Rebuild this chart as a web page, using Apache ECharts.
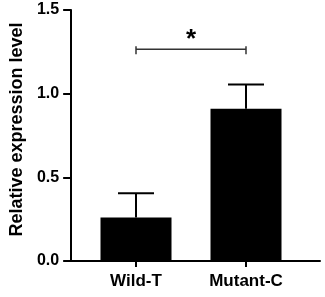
<!DOCTYPE html>
<html>
<head>
<meta charset="utf-8">
<script src="https://cdn.jsdelivr.net/npm/echarts@6/dist/echarts.min.js"></script>
<style>
html, body { margin: 0; padding: 0; background: #fff; }
#main { width: 325px; height: 297px; }
</style>
</head>
<body>
<div id="main"></div>
<script>
// data
var categories = ['Wild-T', 'Mutant-C'];
var means = [0.26, 0.91];
var sds = [0.145, 0.145];
var yTicks = [0, 0.5, 1.0, 1.5];
var sigPair = [0, 1];
var sigLevel = 1.265;
var sigMark = '*';

var font = '"Liberation Sans", Arial, sans-serif';

var errData = [];
for (var i = 0; i < categories.length; i++) {
	errData.push([i, means[i], sds[i]]);
}

var chart = echarts.init(document.getElementById('main'));

var option = {
	animation: false,
	backgroundColor: '#fff',
	grid: [
		{ left: 63, right: 5, top: 10, bottom: 36 },   // 外框坐标轴
		{ left: 81, right: 24, top: 10, bottom: 36 }   // 柱子所在区域
	],
	xAxis: [
		{
			gridIndex: 0, type: 'value', min: 0, max: 1,
			axisLine: { show: true, lineStyle: { color: '#000', width: 2 } },
			axisTick: { show: false }, axisLabel: { show: false }, splitLine: { show: false }
		},
		{
			gridIndex: 1, type: 'category', data: categories,
			axisLine: { show: false },
			axisTick: { show: true, alignWithLabel: true, length: 6, lineStyle: { color: '#000', width: 2 } },
			axisLabel: { margin: 12, color: '#000', fontSize: 17, fontWeight: 'bold', fontFamily: font },
			splitLine: { show: false }
		}
	],
	yAxis: [
		{
			gridIndex: 0, type: 'value', min: yTicks[0], max: yTicks[yTicks.length - 1], interval: 0.5,
			name: 'Relative expression level',
			nameLocation: 'middle',
			nameGap: 45,
			nameTextStyle: { color: '#000', fontSize: 18, fontWeight: 'bold', fontFamily: font, padding: [0, 0, 0, 12] },
			axisLine: { show: true, lineStyle: { color: '#000', width: 2 } },
			axisTick: { show: true, length: 8, lineStyle: { color: '#000', width: 2 } },
			axisLabel: {
				margin: 12, color: '#000', fontSize: 16, fontWeight: 'bold', fontFamily: font,
				formatter: function (v) { return v.toFixed(1); }
			},
			splitLine: { show: false }
		},
		{
			gridIndex: 1, type: 'value', min: yTicks[0], max: yTicks[yTicks.length - 1],
			show: false
		}
	],
	series: [
		{
			type: 'bar', xAxisIndex: 1, yAxisIndex: 1,
			data: means, barWidth: 71,
			itemStyle: { color: '#000' }
		},
		{
			// 误差线
			type: 'custom', xAxisIndex: 1, yAxisIndex: 1, z: 3,
			data: errData,
			renderItem: function (params, api) {
				var p0 = api.coord([api.value(0), api.value(1)]);
				var p1 = api.coord([api.value(0), api.value(1) + api.value(2)]);
				var st = { stroke: '#000', lineWidth: 2 };
				return {
					type: 'group',
					children: [
						{ type: 'line', shape: { x1: p0[0], y1: p0[1], x2: p1[0], y2: p1[1] }, style: st },
						{ type: 'line', shape: { x1: p1[0] - 18, y1: p1[1], x2: p1[0] + 18, y2: p1[1] }, style: st }
					]
				};
			}
		},
		{
			// 显著性标记
			type: 'custom', xAxisIndex: 1, yAxisIndex: 1, z: 3,
			data: [[sigPair[0], sigPair[1], sigLevel]],
			renderItem: function (params, api) {
				var a = api.coord([api.value(0), api.value(2)]);
				var b = api.coord([api.value(1), api.value(2)]);
				var st = { stroke: '#333', lineWidth: 1.5 };
				return {
					type: 'group',
					children: [
						{ type: 'line', shape: { x1: a[0], y1: a[1], x2: b[0], y2: b[1] }, style: st },
						{ type: 'line', shape: { x1: a[0], y1: a[1] - 3, x2: a[0], y2: a[1] + 5 }, style: st },
						{ type: 'line', shape: { x1: b[0], y1: b[1] - 3, x2: b[0], y2: b[1] + 5 }, style: st },
						{
							type: 'text',
							style: {
								x: (a[0] + b[0]) / 2, y: a[1] + 4,
								text: sigMark, fill: '#000',
								font: 'bold 26px ' + font,
								align: 'center', verticalAlign: 'bottom'
							}
						}
					]
				};
			}
		}
	]
};

chart.setOption(option);
</script>
</body>
</html>
